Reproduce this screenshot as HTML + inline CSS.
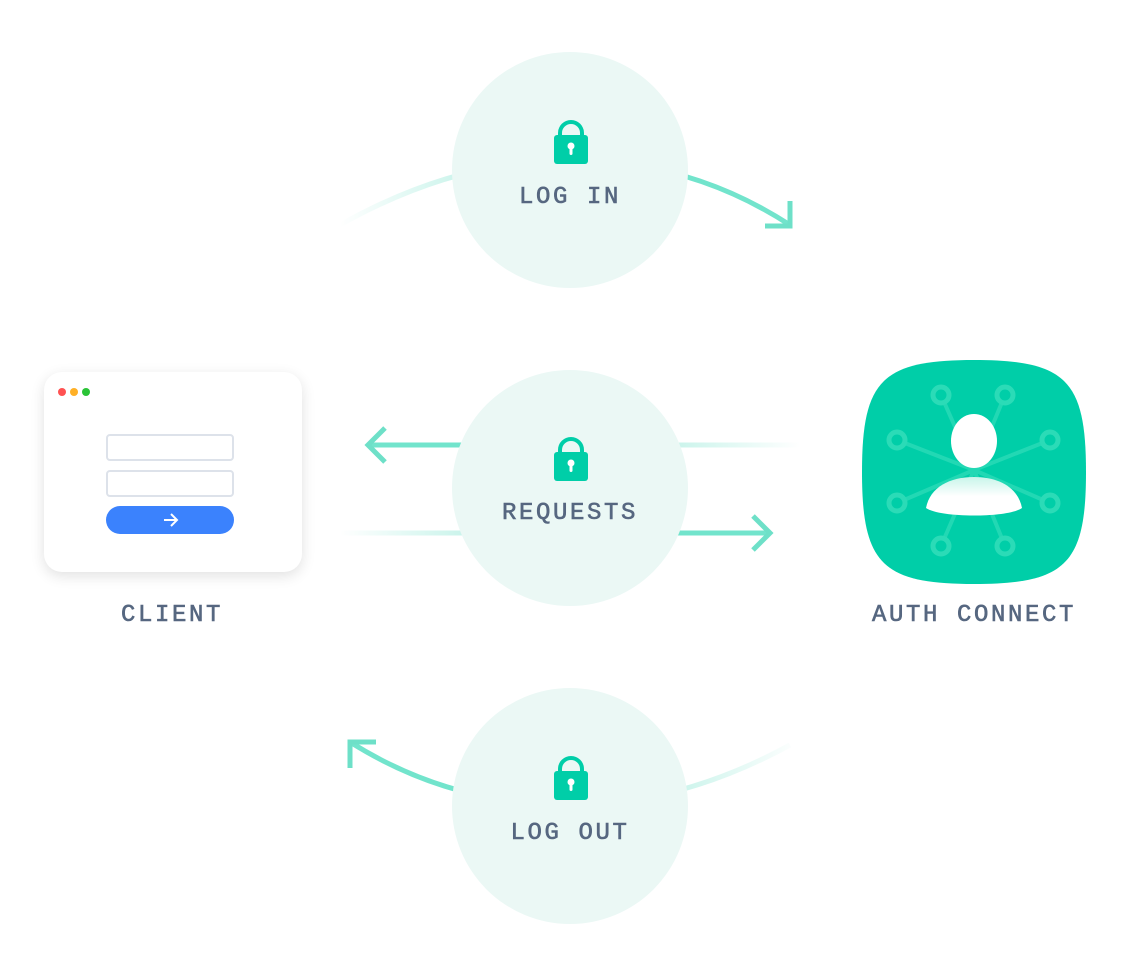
<!DOCTYPE html>
<html><head><meta charset="utf-8"><style>
body{margin:0;width:1146px;height:968px;background:#fff;position:relative;overflow:hidden;font-family:"Liberation Mono",monospace}
.t{position:absolute;color:#566780;font-size:24px;letter-spacing:2.6px;text-align:center;width:300px;line-height:24px;-webkit-text-stroke:0.6px #566780}
.card{position:absolute;left:44px;top:372px;width:258px;height:200px;background:#fff;border-radius:18px;box-shadow:0 4px 14px rgba(0,0,0,.12)}
</style></head><body>
<svg width="1146" height="968" style="position:absolute;left:0;top:0">
<defs>
<linearGradient id="gl" x1="340" y1="0" x2="460" y2="0" gradientUnits="userSpaceOnUse"><stop offset="0" stop-color="#6ee0c8" stop-opacity="0"/><stop offset="1" stop-color="#6ee0c8" stop-opacity=".35"/></linearGradient>
<linearGradient id="gr" x1="800" y1="0" x2="680" y2="0" gradientUnits="userSpaceOnUse"><stop offset="0" stop-color="#6ee0c8" stop-opacity="0"/><stop offset="1" stop-color="#6ee0c8" stop-opacity=".35"/></linearGradient>
<linearGradient id="body" x1="0" y1="0" x2="0" y2="1"><stop offset="0" stop-color="#c8f5ea"/><stop offset=".5" stop-color="#fff"/></linearGradient>
</defs>
<g fill="none" stroke-width="5">
<path d="M340,225 Q455,160 570,160" stroke="url(#gl)"/>
<path d="M570,160 Q690,160 790,225" stroke="#72e4cc"/>
<path d="M790,201 V226 H765" stroke="#6ee0c8"/>
<path d="M790,745 Q680,805 570,805" stroke="url(#gr)"/>
<path d="M570,805 Q450,805 350,742" stroke="#72e4cc"/>
<path d="M350,768 V742 H376" stroke="#6ee0c8"/>
<path d="M800,445 H570" stroke="url(#gr)"/>
<path d="M570,445 H368" stroke="#72e4cc"/>
<path d="M385,428 L368,445 L385,462" stroke="#6ee0c8"/>
<path d="M340,533 H570" stroke="url(#gl)"/>
<path d="M570,533 H770" stroke="#72e4cc"/>
<path d="M753,516 L770,533 L753,550" stroke="#6ee0c8"/>
</g>
<circle cx="570" cy="170" r="118" fill="#ebf8f5"/>
<circle cx="570" cy="488" r="118" fill="#ebf8f5"/>
<circle cx="570" cy="806" r="118" fill="#ebf8f5"/>
<g id="lk">
<path d="M560,137 V133 A11,11 0 0 1 582,133 V137" fill="none" stroke="#00cea8" stroke-width="4"/>
<rect x="554" y="135" width="34" height="29" rx="3" fill="#00cea8"/>
<circle cx="571" cy="146" r="3.5" fill="#fff"/><rect x="569.5" y="146" width="3" height="9" rx="1.5" fill="#fff"/>
</g>
<use href="#lk" y="317"/>
<use href="#lk" y="636"/>
<path d="M974,360 C1066,360 1086,380 1086,472 C1086,564 1066,584 974,584 C882,584 862,564 862,472 C862,380 882,360 974,360 Z" fill="#00cea8"/>
<g stroke="#2bdbb7" stroke-width="4" fill="none" opacity=".8">
<path d="M974,470 L941,395 M974,470 L1005,395 M974,470 L897,440 M974,470 L1050,440 M974,470 L897,503 M974,470 L1050,503 M974,470 L941,546 M974,470 L1005,546"/>
</g>
<g fill="#00cea8" stroke="#2bdbb7" stroke-width="5">
<circle cx="941" cy="395" r="8"/><circle cx="1005" cy="395" r="8"/><circle cx="897" cy="440" r="8"/><circle cx="1050" cy="440" r="8"/><circle cx="897" cy="503" r="8"/><circle cx="1050" cy="503" r="8"/><circle cx="941" cy="546" r="8"/><circle cx="1005" cy="546" r="8"/>
</g>
<ellipse cx="974" cy="441" rx="23" ry="27" fill="#fff"/>
<path d="M926,508 C930,487 950,477 974,477 C998,477 1018,487 1022,508 C1008,518 940,518 926,508 Z" fill="url(#body)"/>
</svg>
<div class="card">
<svg width="258" height="200" style="position:absolute;left:0;top:0">
<circle cx="18" cy="20" r="4" fill="#ff5252"/><circle cx="30" cy="20" r="4" fill="#ffb026"/><circle cx="42" cy="20" r="4" fill="#2ac337"/>
<rect x="63" y="63" width="126" height="25" rx="3" fill="#fff" stroke="#dde2ea" stroke-width="2"/>
<rect x="63" y="99" width="126" height="25" rx="3" fill="#fff" stroke="#dde2ea" stroke-width="2"/>
<rect x="62" y="134" width="128" height="28" rx="14" fill="#3b82fd"/>
<path d="M120,148 H133 M127,142 L133,148 L127,154" stroke="#fff" stroke-width="2" fill="none"/>
</svg></div>
<div class="t" style="left:420px;top:186px">LOG IN</div>
<div class="t" style="left:420px;top:502px">REQUESTS</div>
<div class="t" style="left:420px;top:822px">LOG OUT</div>
<div class="t" style="left:22px;top:604px">CLIENT</div>
<div class="t" style="left:824px;top:604px">AUTH CONNECT</div>
</body></html>
